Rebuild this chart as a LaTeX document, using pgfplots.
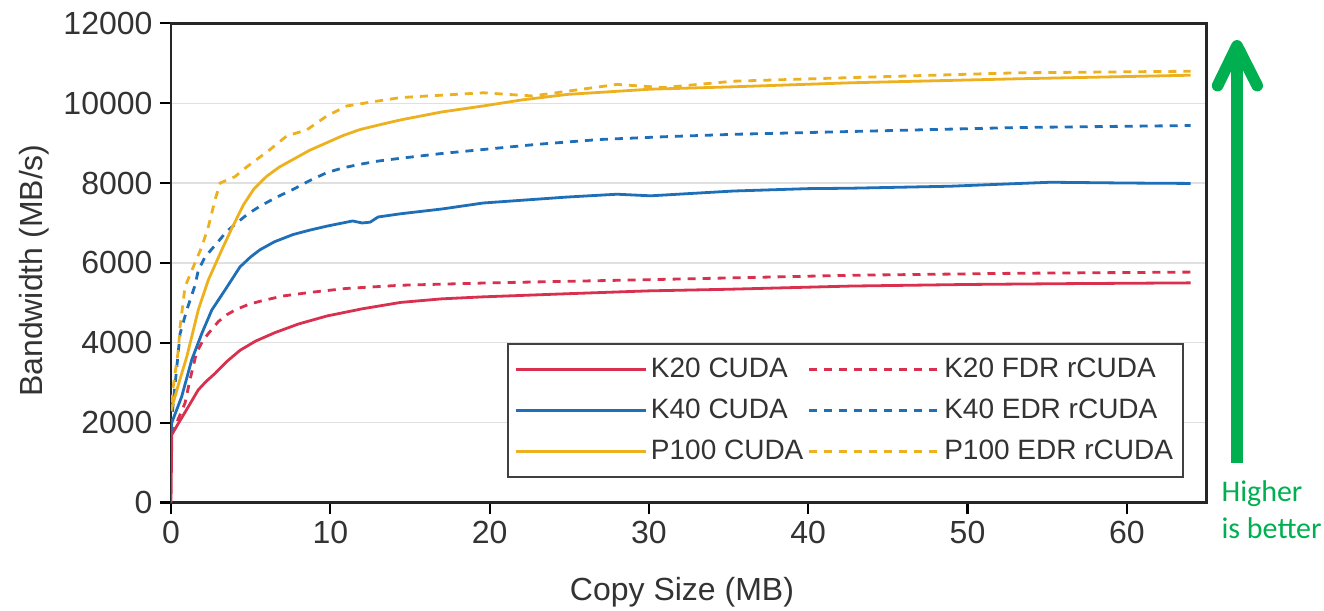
\documentclass[border=0pt]{standalone}
\usepackage{fontspec}
\setmainfont{Liberation Sans}
\newfontfamily\carlito{Carlito}
\usepackage{pgfplots}
\pgfplotsset{compat=1.18}
\definecolor{cred}{HTML}{D9304F}
\definecolor{cblue}{HTML}{1F6FB8}
\definecolor{cyel}{HTML}{EDB120}
\definecolor{cgreen}{HTML}{00B050}
\definecolor{tickgray}{HTML}{333333}
\begin{document}
\begin{tikzpicture}
\useasboundingbox (0,0) rectangle (662bp,-305.5bp);
\begin{axis}[
  at={(85.5bp,-251.25bp)}, anchor=south west,
  scale only axis, width=517.75bp, height=239.6bp,
  xmin=0, xmax=65, ymin=0, ymax=12000,
  xtick={0,10,...,60}, ytick={0,2000,...,12000},
  tick align=outside, xtick pos=bottom, ytick pos=left,
  major tick length=5.75bp,
  every tick/.style={black, line width=1.1bp},
  axis line style={draw=black!85, line width=1.2bp},
  ymajorgrids, grid style={draw=black!12, line width=0.6bp},
  tick label style={font=\fontsize{16bp}{19bp}\selectfont, text=tickgray},
  /pgf/number format/assume math mode=true,
  /pgf/number format/1000 sep={},
  scaled y ticks=false, scaled x ticks=false,
  xlabel={Copy Size (MB)}, ylabel={Bandwidth (MB/s)},
  label style={font=\fontsize{16bp}{19bp}\selectfont, text=tickgray},
  xlabel style={at={(axis description cs:0.4935,0)}, anchor=north, yshift=-37bp, inner sep=0pt},
  ylabel style={at={(axis description cs:-0.1323,0.484)}, anchor=center, inner sep=0pt},
  every axis plot/.append style={line width=1.4bp, line join=round},
  legend columns=2,
  legend cell align=left,
  legend image code/.code={\draw[#1] (0bp,0bp) -- (65bp,0bp);},
  legend style={at={(1,0)}, anchor=south east, xshift=-11.25bp, yshift=12.25bp,
    draw=black!75, line width=1bp, fill=white,
    inner xsep=3bp, inner ysep=4bp, row sep=3bp, column sep=0bp,
    font=\fontsize{14bp}{17bp}\selectfont, text=tickgray,
    nodes={inner sep=2bp, text height=10.5bp, text depth=3bp}},
]
% K20 CUDA
\addplot[cred] coordinates {
(0,0) (0.05,1700) (0.46,1980) (1.09,2400) (1.71,2820) (2.2,3030) (2.76,3230)
(3.5,3530) (4.33,3810) (5.3,4040) (6.5,4250) (8,4470) (9.78,4670) (12,4850)
(14.4,5010) (17,5100) (19.6,5150) (25,5230) (30,5300) (35,5340)
(42.65,5420) (50,5460) (56,5480) (64,5500)};
\addlegendentry{K20 CUDA}
% K20 FDR rCUDA
\addplot[cred, dash pattern=on 4bp off 3.5bp] coordinates {
(0,1700) (0.25,1900) (0.88,2490) (1.19,3070) (1.6,3750) (2.0,4050) (2.34,4230)
(2.97,4530) (3.5,4700) (4.02,4820) (4.8,4950) (5.59,5040) (7,5170) (8.7,5260)
(11,5360) (14.4,5440) (20,5500) (30,5580) (42.65,5690) (53,5740) (64,5770)};
\addlegendentry{K20 FDR rCUDA}
% K40 CUDA
\addplot[cblue] coordinates {
(0,1750) (0.05,2000) (0.67,2650) (1.3,3570) (1.93,4230) (2.56,4820) (3.39,5320)
(4.33,5900) (5.0,6150) (5.59,6330) (6.5,6530) (7.66,6710) (8.7,6820) (9.78,6920)
(11.4,7050) (12.0,7000) (12.5,7020) (13.0,7150) (14.4,7230) (17,7350) (19.6,7500)
(24.9,7650) (28.0,7720) (30.1,7680) (35.3,7800) (40,7860) (42.65,7870) (48.9,7920)
(55.2,8020) (60,8000) (64,7990)};
\addlegendentry{K40 CUDA}
% K40 EDR rCUDA
\addplot[cblue, dash pattern=on 4bp off 3.5bp] coordinates {
(0,1900) (0.57,4230) (0.99,4820) (1.51,5440) (1.71,5810) (2.14,6150) (2.87,6490)
(3.5,6790) (4.13,7000) (4.8,7220) (5.59,7420) (6.6,7640) (7.66,7840) (8.7,8060)
(9.78,8260) (10.8,8380) (11.87,8470) (13,8550) (14.4,8620) (17,8740) (19.6,8840)
(23,8970) (26.9,9090) (31,9160) (35.3,9220) (42.65,9290) (53.1,9390) (64,9440)};
\addlegendentry{K40 EDR rCUDA}
% P100 CUDA
\addplot[cyel] coordinates {
(0,2300) (0.5,3000) (0.99,3650) (1.3,4150) (1.71,4820) (2.34,5570) (3.18,6320)
(3.8,6850) (4.54,7450) (5.2,7850) (6.01,8170) (6.8,8400) (7.66,8590) (8.7,8820)
(9.78,9010) (10.8,9190) (11.87,9340) (13,9450) (14.4,9580) (17,9780) (19.6,9930)
(22,10080) (24.9,10220) (30.1,10350) (35.3,10410) (42.65,10510) (53.1,10610) (64,10700)};
\addlegendentry{P100 CUDA}
% P100 EDR rCUDA
\addplot[cyel, dash pattern=on 4bp off 3.5bp] coordinates {
(0,2500) (0.46,3810) (0.57,4400) (0.88,5400) (1.40,5900) (1.93,6400) (2.34,6900)
(2.76,7570) (3.08,8000) (4.02,8160) (4.54,8340) (6.22,8840) (7.27,9180) (8.52,9330)
(9.78,9680) (11.04,9930) (12.92,10050) (14.4,10140) (19.6,10260) (22.7,10180)
(28.0,10470) (30.9,10390) (35.3,10550) (42.65,10640) (53.1,10760) (64,10800)};
\addlegendentry{P100 EDR rCUDA}
\end{axis}
\draw[cgreen, line width=5.8bp] (618.5bp,-231.5bp) -- (618.5bp,-24bp);
\draw[cgreen, line width=5.8bp, line cap=round, line join=round]
  (608.8bp,-42.8bp) -- (618.5bp,-22.9bp) -- (628.6bp,-42.8bp);
\node[anchor=base west, inner sep=0pt, text=cgreen, font=\carlito\fontsize{15bp}{18bp}\selectfont]
  at (610.6bp,-250.8bp) {Higher};
\node[anchor=base west, inner sep=0pt, text=cgreen, font=\carlito\fontsize{15bp}{18bp}\selectfont]
  at (610.6bp,-269.2bp) {is better};
\end{tikzpicture}
\end{document}
